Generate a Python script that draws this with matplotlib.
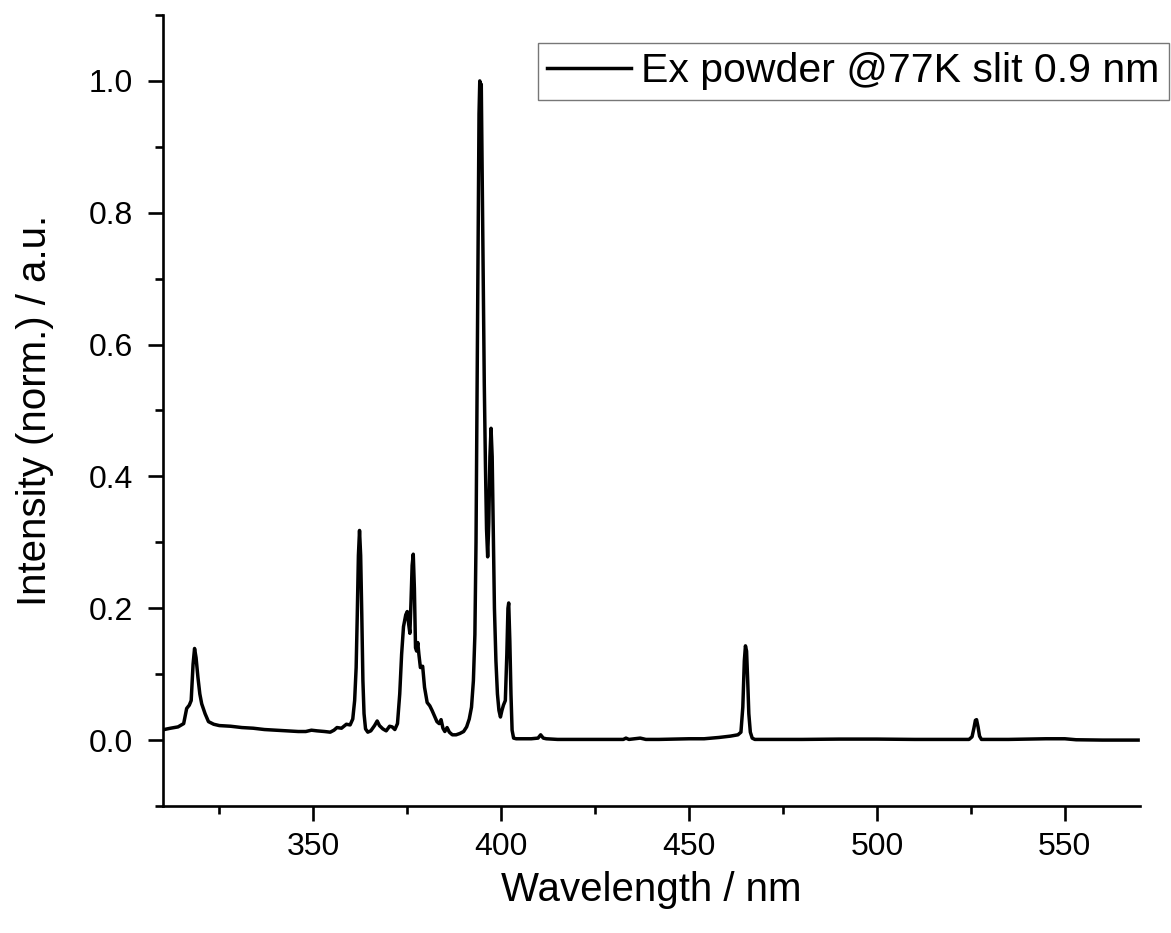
import matplotlib
matplotlib.use("Agg")
import matplotlib.pyplot as plt
from matplotlib.ticker import MultipleLocator, FormatStrFormatter

plt.rcParams['font.family'] = ['Liberation Sans', 'DejaVu Sans']

series_label = "Ex powder @77K slit 0.9 nm"
x_label = "Wavelength / nm"
y_label = "Intensity (norm.) / a.u."

wavelength_nm = [
    310.3, 312.0, 314.0, 315.5, 316.3, 317.0, 317.5, 318.0, 318.4, 318.8,
    319.3, 319.8, 320.3, 321.2, 322.1, 323.5, 325.0, 328.0, 331.0, 334.0,
    337.0, 340.0, 343.0, 346.0, 348.0, 349.5, 351.0, 353.0, 354.5, 355.5,
    356.3, 357.5, 358.8, 359.8, 360.5, 361.0, 361.4, 361.7, 362.0, 362.3,
    362.6, 362.9, 363.2, 363.5, 363.9, 364.5, 365.3, 366.3, 367.0, 367.6,
    368.5, 369.4, 370.3, 371.0, 371.7, 372.4, 373.0, 373.5, 374.0, 374.6,
    375.0, 375.4, 375.7, 376.0, 376.3, 376.6, 376.9, 377.2, 377.5, 377.8,
    378.1, 378.5, 379.1, 379.6, 380.3, 381.0, 381.6, 382.3, 382.9, 383.5,
    384.0, 384.5, 385.0, 385.6, 386.2, 387.0, 388.0, 389.0, 390.0, 390.8,
    391.5, 392.1, 392.6, 393.0, 393.3, 393.6, 393.9, 394.1, 394.3, 394.5,
    394.7, 394.9, 395.2, 395.5, 395.8, 396.1, 396.4, 396.7, 397.0, 397.3,
    397.6, 397.9, 398.2, 398.6, 399.0, 399.4, 399.8, 400.2, 400.6, 401.1,
    401.5, 401.8, 402.0, 402.3, 402.6, 402.9, 403.3, 404.0, 406.0, 408.0,
    409.8, 410.5, 411.2, 412.0, 415.0, 420.0, 425.0, 430.0, 432.5, 433.2,
    434.0, 435.5, 437.0, 438.5, 442.0, 446.0, 450.0, 454.0, 458.0, 461.0,
    463.0, 463.8, 464.3, 464.7, 465.0, 465.3, 465.6, 465.9, 466.3, 466.8,
    467.5, 472.0, 480.0, 490.0, 500.0, 510.0, 518.0, 524.5, 525.3, 525.8,
    526.2, 526.5, 526.9, 527.3, 527.8, 530.0, 535.0, 540.0, 545.0, 550.0,
    553.0, 560.0, 565.0, 569.5,
]

intensity_norm = [
    0.016, 0.018, 0.020, 0.025, 0.048, 0.053, 0.060, 0.115, 0.139, 0.125,
    0.095, 0.070, 0.055, 0.040, 0.028, 0.024, 0.022, 0.021, 0.019, 0.018,
    0.016, 0.015, 0.014, 0.013, 0.013, 0.015, 0.014, 0.013, 0.012, 0.015,
    0.019, 0.018, 0.024, 0.023, 0.032, 0.060, 0.110, 0.190, 0.280, 0.318,
    0.280, 0.190, 0.090, 0.040, 0.017, 0.012, 0.014, 0.022, 0.029, 0.022,
    0.017, 0.014, 0.021, 0.020, 0.016, 0.025, 0.070, 0.130, 0.172, 0.190,
    0.195, 0.175, 0.162, 0.210, 0.265, 0.282, 0.230, 0.140, 0.135, 0.148,
    0.130, 0.110, 0.112, 0.080, 0.057, 0.052, 0.045, 0.036, 0.028, 0.025,
    0.031, 0.018, 0.013, 0.019, 0.012, 0.008, 0.008, 0.010, 0.013, 0.020,
    0.032, 0.050, 0.090, 0.160, 0.300, 0.550, 0.800, 0.950, 1.000, 0.985,
    0.995, 0.880, 0.700, 0.540, 0.420, 0.320, 0.278, 0.330, 0.430, 0.473,
    0.430, 0.320, 0.200, 0.120, 0.070, 0.045, 0.035, 0.045, 0.053, 0.060,
    0.130, 0.200, 0.208, 0.150, 0.070, 0.015, 0.003, 0.002, 0.002, 0.002,
    0.003, 0.008, 0.003, 0.002, 0.001, 0.001, 0.001, 0.001, 0.001, 0.003,
    0.001, 0.002, 0.003, 0.001, 0.001, 0.0015, 0.002, 0.002, 0.004, 0.006,
    0.008, 0.012, 0.050, 0.120, 0.143, 0.135, 0.090, 0.040, 0.012, 0.003,
    0.001, 0.001, 0.001, 0.0015, 0.0015, 0.001, 0.001, 0.001, 0.005, 0.018,
    0.030, 0.031, 0.020, 0.006, 0.001, 0.001, 0.001, 0.0015, 0.002, 0.002,
    0.0005, 0.0, 0.0, 0.0,
]

W, H = 1171, 933
fig = plt.figure(figsize=(W / 100, H / 100), dpi=100)
ax = fig.add_axes([163 / W, 1 - 806 / H, (1140 - 163) / W, (806 - 15) / H])

ax.plot(wavelength_nm, intensity_norm, color='black', lw=2.5,
        solid_joinstyle='round', label=series_label)

ax.set_xlim(310, 570)
ax.set_ylim(-0.1, 1.1)
ax.xaxis.set_major_locator(MultipleLocator(50))
ax.xaxis.set_minor_locator(MultipleLocator(25))
ax.yaxis.set_major_locator(MultipleLocator(0.2))
ax.yaxis.set_minor_locator(MultipleLocator(0.1))
ax.yaxis.set_major_formatter(FormatStrFormatter('%.1f'))

for side in ('top', 'right'):
    ax.spines[side].set_visible(False)
for side in ('left', 'bottom'):
    ax.spines[side].set_linewidth(1.9)

ax.tick_params(which='major', direction='out', length=11, width=1.9, labelsize=23)
ax.tick_params(which='minor', direction='out', length=5.5, width=1.9)
ax.tick_params(axis='x', which='major', pad=8)
ax.tick_params(axis='y', which='major', pad=10.5)

ax.set_xlabel(x_label, fontsize=29, labelpad=6)
ax.set_ylabel(y_label, fontsize=29, labelpad=25)

leg = fig.legend(loc='upper right', bbox_to_anchor=(1169 / W, 1 - 43 / H),
                 fontsize=29.5, frameon=True, fancybox=False, borderpad=0.23,
                 borderaxespad=0, handlelength=2.05, handletextpad=0.24)
leg.get_frame().set_edgecolor('#555555')
leg.get_frame().set_linewidth(1.0)

fig.savefig('out.png', dpi=100)
